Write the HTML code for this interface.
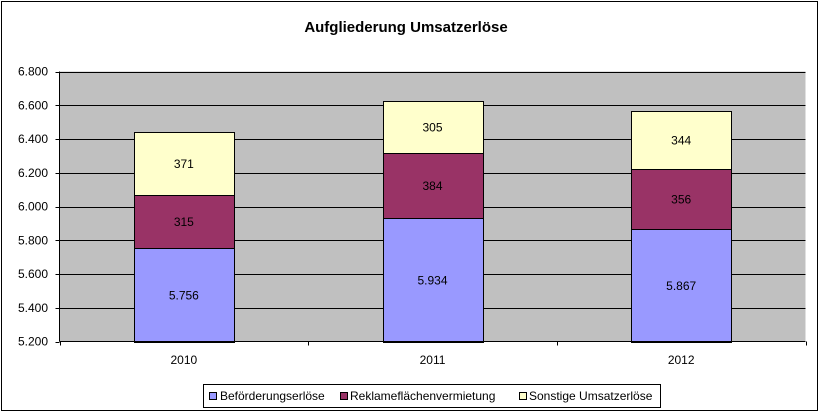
<!DOCTYPE html>
<html><head><meta charset="utf-8"><style>
body{margin:0;background:#fff;width:820px;height:416px;overflow:hidden}
svg{display:block;font-family:"Liberation Sans",Arial,sans-serif}
</style></head><body>
<svg id="chart" width="820" height="416">
<rect x="1.5" y="1.5" width="816" height="409" fill="#fff" stroke="#000"/>
<text x="406" y="32" text-anchor="middle" font-size="15" font-weight="bold">Aufgliederung Umsatzerlöse</text>
<rect x="59.5" y="71.5" width="746" height="270" fill="#c0c0c0"/>
<g id="grid"></g><g id="bars"></g><g id="axes"></g>
<g>
<rect x="203.5" y="384.5" width="457" height="23" fill="#fff" stroke="#000"/>
<rect x="209.5" y="392.5" width="7" height="7" fill="#9999ff" stroke="#000"/>
<text x="220" y="400" font-size="12">Beförderungserlöse</text>
<rect x="340.5" y="392.5" width="7" height="7" fill="#993366" stroke="#000"/>
<text x="350" y="400" font-size="12">Reklameflächenvermietung</text>
<rect x="519.5" y="392.5" width="7" height="7" fill="#ffffcc" stroke="#000"/>
<text x="529" y="400" font-size="12">Sonstige Umsatzerlöse</text>
</g>
</svg>
<script>
const categories=["2010","2011","2012"];
const befoerderung=[5756,5934,5867];
const reklame=[315,384,356];
const sonstige=[371,305,344];
const yTicks=[5200,5400,5600,5800,6000,6200,6400,6600,6800];
const yTickLabels=["5.200","5.400","5.600","5.800","6.000","6.200","6.400","6.600","6.800"];
const NS="http://www.w3.org/2000/svg";
const L=59.5,R=805.5,T=71.5,B=341.5,yMin=5200,yMax=6800;
const y=v=>B-(v-yMin)/(yMax-yMin)*(B-T);
const cw=(R-L)/categories.length;
const xc=i=>L+cw*(i+0.5);
function mk(tag,attrs,parent){const e=document.createElementNS(NS,tag);for(const k in attrs)e.setAttribute(k,attrs[k]);parent.appendChild(e);return e;}
const grid=document.getElementById('grid'),bars=document.getElementById('bars'),axes=document.getElementById('axes');
yTicks.forEach((t,i)=>{
  if(t>yMin){const g=mk('line',{x1:L,x2:R,y1:Math.round(y(t))+0.5,y2:Math.round(y(t))+0.5,stroke:'#000'},grid);
  
  }
  const tk=mk('line',{x1:L-4,x2:L,y1:Math.round(y(t))+0.5,y2:Math.round(y(t))+0.5,stroke:'#000'},axes);
  
  
  const lb=mk('text',{x:48,y:y(t)+4,'text-anchor':'end','font-size':12},axes);
  lb.textContent=yTickLabels[i];
  
  
});
const series=[[befoerderung,'#9999ff','befoerderung'],[reklame,'#993366','reklame'],[sonstige,'#ffffcc','sonstige']];
categories.forEach((c,i)=>{
  let base=yMin,cum=0;
  series.forEach(([arr,col,nm],si)=>{
    const v=arr[i];const lo=si===0?yMin:cum;const hi=(si===0?0:cum)+v;cum=hi;
    const y0=Math.round(y(lo))+0.5,y1=Math.round(y(hi))+0.5;
    const r=mk('rect',{x:Math.round(xc(i)-50)+0.5,y:y1,width:100,height:y0-y1,fill:col,stroke:'#000'},bars);
    
    
    const t=mk('text',{x:xc(i),y:(y0+y1)/2+4,'text-anchor':'middle','font-size':12},bars);
    t.textContent=v.toLocaleString('de-DE');
    
    
  });
  const xl=mk('text',{x:xc(i),y:364,'text-anchor':'middle','font-size':12},axes);
  xl.textContent=c;
  
  
});
for(let i=0;i<=categories.length;i++){const x=Math.round(L+cw*i)+0.5;
  const tk=mk('line',{x1:x,x2:x,y1:B,y2:B+4,stroke:'#000'},axes);
  
  }
const ya=mk('line',{x1:L,x2:L,y1:T,y2:B,stroke:'#000'},axes);


const xa=mk('line',{x1:L,x2:R,y1:B,y2:B,stroke:'#000'},axes);


</script>
</body></html>
